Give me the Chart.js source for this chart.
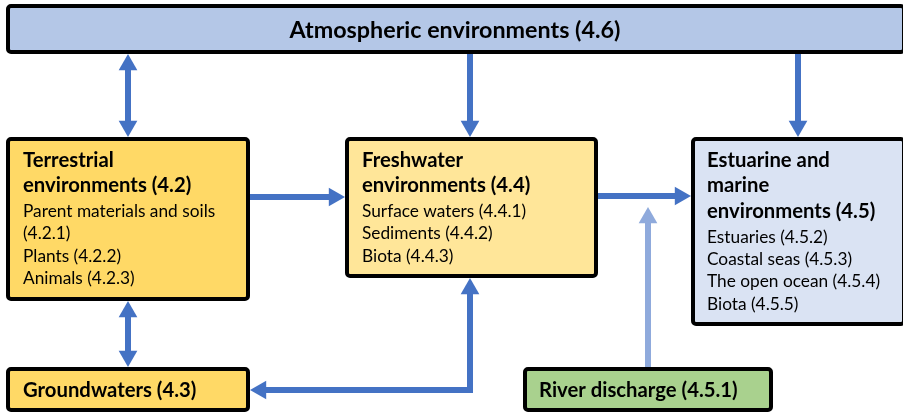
<!DOCTYPE html>
<html>
<head>
<meta charset="utf-8">
<script src="https://cdn.jsdelivr.net/npm/chart.js@4.4.1/dist/chart.umd.min.js"></script>
<style>
html, body { margin: 0; padding: 0; background: #fff; }
</style>
</head>
<body>
<canvas id="diagram" width="903" height="413"></canvas>
<script>
// the boxes of the diagram
const boxNames = ['atmos', 'terr', 'fresh', 'estu', 'ground', 'river'];
const boxTitles = [
    ['Atmospheric environments (4.6)'],
    ['Terrestrial', 'environments (4.2)'],
    ['Freshwater', 'environments (4.4)'],
    ['Estuarine and', 'marine', 'environments (4.5)'],
    ['Groundwaters (4.3)'],
    ['River discharge (4.5.1)']
];
const boxItems = [
    [],
    ['Parent materials and soils', '(4.2.1)', 'Plants (4.2.2)', 'Animals (4.2.3)'],
    ['Surface waters (4.4.1)', 'Sediments (4.4.2)', 'Biota (4.4.3)'],
    ['Estuaries (4.5.2)', 'Coastal seas (4.5.3)', 'The open ocean (4.5.4)', 'Biota (4.5.5)'],
    [],
    []
];

// the links between boxes
const linkFrom = ['atmos', 'atmos', 'atmos', 'terr', 'fresh', 'terr', 'fresh', 'river'];
const linkTo = ['terr', 'fresh', 'estu', 'fresh', 'estu', 'ground', 'ground', 'estu'];
const linkBoth = [true, false, false, false, false, true, true, false];

// layout, in axis units (the axes run 0..903 and 0..413)
const boxRects = {
    atmos: [6, 4, 906, 54],
    terr: [6, 137, 250, 301],
    fresh: [345, 137, 598, 278],
    estu: [691, 137, 906, 326],
    ground: [6, 367, 250, 412],
    river: [523, 367, 773, 412]
};
const boxFill = {
    atmos: '#B4C7E7', terr: '#FFD966', fresh: '#FFE699',
    estu: '#DAE3F3', ground: '#FFD966', river: '#A9D18E'
};
const boxText = {           // text x, first line y
    atmos: [455, 30],
    terr: [23, 160],
    fresh: [362, 160],
    estu: [707, 160],
    ground: [23, 390],
    river: [539, 390]
};
const linkPaths = [
    [[128, 54], [128, 137]],
    [[470, 54], [470, 137]],
    [[798, 54], [798, 137]],
    [[250, 197], [345, 197]],
    [[598, 196], [691, 196]],
    [[128, 301], [128, 367]],
    [[470, 278], [470, 390], [250, 390]],
    [[648, 367], [648, 207]]
];
const linkColor = ['#4472C4', '#4472C4', '#4472C4', '#4472C4', '#4472C4', '#4472C4', '#4472C4', '#8FAADC'];

const HEAD_R = 10.8;
const FONT = 'Lato, "Open Sans", sans-serif';

// move an end point back along the path so the arrow tip sits on it
function headAt(tip, prev) {
    var dx = tip[0] - prev[0], dy = tip[1] - prev[1];
    var len = Math.sqrt(dx * dx + dy * dy);
    var ux = dx / len, uy = dy / len;
    return {
        x: tip[0] - ux * HEAD_R,
        y: tip[1] - uy * HEAD_R,
        rot: Math.atan2(ux, -uy) * 180 / Math.PI
    };
}

var datasets = [];
var heads = [], headRot = [], headCol = [];

linkPaths.forEach(function (path, i) {
    var pts = path.map(p => ({ x: p[0], y: p[1] }));
    var n = path.length;
    var end = headAt(path[n - 1], path[n - 2]);
    pts[n - 1] = { x: end.x, y: end.y };
    heads.push({ x: end.x, y: end.y }); headRot.push(end.rot); headCol.push(linkColor[i]);
    if (linkBoth[i]) {
        var start = headAt(path[0], path[1]);
        pts[0] = { x: start.x, y: start.y };
        heads.push({ x: start.x, y: start.y }); headRot.push(start.rot); headCol.push(linkColor[i]);
    }
    datasets.push({
        label: linkFrom[i] + '-' + linkTo[i],
        data: pts,
        showLine: true,
        borderColor: linkColor[i],
        borderWidth: 6,
        borderCapStyle: 'butt',
        borderJoinStyle: 'miter',
        pointRadius: 0,
        tension: 0,
        clip: false
    });
});

datasets.push({
    label: 'heads',
    data: heads,
    showLine: false,
    pointStyle: 'triangle',
    pointRadius: HEAD_R,
    pointRotation: headRot,
    pointBackgroundColor: headCol,
    pointBorderWidth: 0,
    clip: false
});

const boxPlugin = {
    id: 'boxes',
    beforeDatasetsDraw(chart) {
        var ctx = chart.ctx;
        var xs = chart.scales.x, ys = chart.scales.y;
        ctx.save();
        boxNames.forEach(function (name, i) {
            var r = boxRects[name];
            var x0 = xs.getPixelForValue(r[0]), x1 = xs.getPixelForValue(r[2]);
            var y0 = ys.getPixelForValue(r[1]), y1 = ys.getPixelForValue(r[3]);
            ctx.beginPath();
            ctx.roundRect(x0 + 2, y0 + 2, x1 - x0 - 4, y1 - y0 - 4, 3);
            ctx.fillStyle = boxFill[name];
            ctx.fill();
            ctx.lineWidth = 4;
            ctx.strokeStyle = '#000';
            ctx.stroke();

            var t = boxText[name];
            var tx = xs.getPixelForValue(t[0]);
            var ty = ys.getPixelForValue(t[1]);
            ctx.fillStyle = '#000';
            ctx.textBaseline = 'middle';
            if (name === 'atmos') {
                ctx.textAlign = 'center';
                ctx.font = 'bold 23.3px ' + FONT;
            } else {
                ctx.textAlign = 'left';
                ctx.font = 'bold 20.3px ' + FONT;
            }
            boxTitles[i].forEach(function (line, k) {
                ctx.fillText(line, tx, ty + k * 25.6);
            });
            ctx.font = '17.3px ' + FONT;
            var iy = ty + (boxTitles[i].length - 1) * 25.6 + 26;
            boxItems[i].forEach(function (line, k) {
                ctx.fillText(line, tx, iy + k * 22.3);
            });
        });
        ctx.restore();
    }
};

new Chart(document.getElementById('diagram'), {
    type: 'scatter',
    data: { datasets: datasets },
    options: {
        responsive: false,
        animation: false,
        layout: { padding: 0, autoPadding: false },
        plugins: { legend: { display: false }, tooltip: { enabled: false } },
        scales: {
            x: { type: 'linear', display: false, min: 0, max: 903 },
            y: { type: 'linear', display: false, min: 0, max: 413, reverse: true }
        }
    },
    plugins: [boxPlugin]
});
</script>
</body>
</html>
